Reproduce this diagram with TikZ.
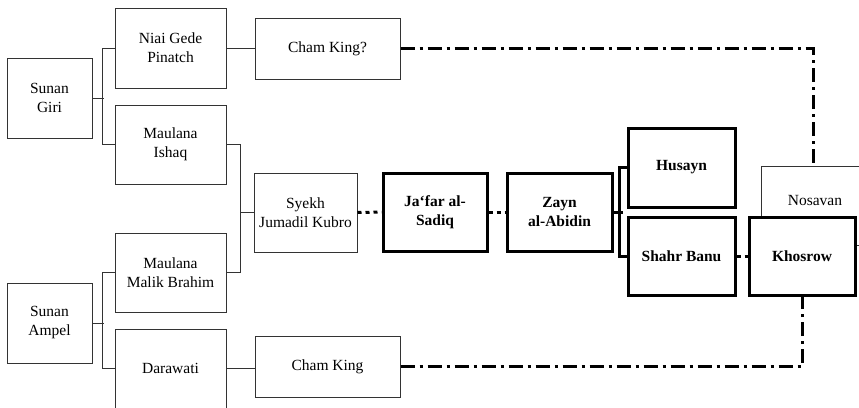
\documentclass[tikz,border=0pt]{standalone}
\usepackage{fontspec}
\setmainfont{Liberation Serif}
\begin{document}
\begin{tikzpicture}[x=1pt,y=-1pt,
 box/.style={draw=black!80, line width=1pt, fill=white, inner sep=0pt, align=center, font=\fontsize{15.5}{19}\selectfont},
 bbox/.style={box, draw=black, line width=3pt, font=\fontsize{15.5}{19}\selectfont\bfseries},
 thinline/.style={draw=black!80, line width=1pt},
 thickline/.style={draw=black, line width=3pt},
 dotline/.style={draw=black, line width=3pt, dash pattern=on 4pt off 4pt},
 dashdotline/.style={draw=black, line width=3pt, dash pattern=on 14pt off 5pt on 3pt off 5pt}]
\useasboundingbox (0,0) rectangle (859,407);
\clip (0,0) rectangle (859,407);
\fill[white] (0,0) rectangle (859,407);

% thin boxes
\node[box, minimum width=85pt, minimum height=80pt] (giri) at (49.5,98) {Sunan\\Giri};
\node[box, minimum width=111pt, minimum height=80pt] (niai) at (170.5,48) {Niai Gede\\Pinatch};
\node[box, minimum width=111pt, minimum height=79pt] (ishaq) at (170.5,144.5) {Maulana\\Ishaq};
\node[box, minimum width=145pt, minimum height=61pt] (chamq) at (327.5,48.5) {Cham King?};
\node[box, minimum width=103pt, minimum height=79pt] (syekh) at (305.5,212.5) {Syekh\\Jumadil Kubro};
\node[box, minimum width=85pt, minimum height=80pt] (ampel) at (49.5,323) {Sunan\\Ampel};
\node[box, minimum width=111pt, minimum height=79pt] (malik) at (170.5,272.5) {Maulana\\Malik Brahim};
\node[box, minimum width=111pt, minimum height=79pt] (darawati) at (170.5,368.5) {Darawati};
\node[box, minimum width=145pt, minimum height=61pt] (chamk) at (327.5,366.5) {Cham King};
\node[box, minimum width=108pt, minimum height=79pt] (nosavan) at (815,205.5) {};
\node[inner sep=0pt, font=\fontsize{15.5}{19}\selectfont] (nosavanlabel) at (815,200) {Nosavan};

% thick boxes
\node[bbox, minimum width=104pt, minimum height=78pt] (jafar) at (435,212) {Ja‘far al-\\Sadiq};
\node[bbox, minimum width=105pt, minimum height=78pt] (zayn) at (559.5,212) {Zayn\\al-Abidin};
\node[bbox, minimum width=107pt, minimum height=79pt] (husayn) at (681.5,167.5) {Husayn};
\node[bbox, minimum width=107pt, minimum height=78pt] (shahr) at (681.5,256) {Shahr Banu};
\node[bbox, minimum width=106pt, minimum height=78pt] (khosrow) at (802,256) {Khosrow};

% thin connectors
\draw[thinline] (giri.east) -- ++(11,0);
\draw[thinline] (niai.west) -- ++(-12,0) |- (ishaq.west);
\draw[thinline] (niai.east) -- (niai.east -| chamq.west);
\draw[thinline] (ishaq.east) -- ++(14,0) |- (malik.east);
\draw[thinline] (syekh.west) -- ++(-14,0);
\draw[thinline] (ampel.east) -- ++(11,0);
\draw[thinline] (malik.west) -- ++(-12,0) |- (darawati.west);
\draw[thinline] (darawati.east) -- (darawati.east -| chamk.west);

% thick connectors
\draw[thickline] (zayn.east) -- ++(9,0);
\draw[thickline] (husayn.west) -- ++(-7,0) |- (shahr.west);

% dotted
\draw[dotline] (syekh.east) -- (jafar.west);
\draw[dotline] (jafar.east) -- (zayn.west);
\draw[dotline] (shahr.east) -- (khosrow.west);

% dash-dot
\coordinate (tc) at (813,0);
\draw[dashdotline] (chamq.east) -| (tc |- nosavan.north);
\draw[dashdotline] (chamk.east) -| (khosrow.south);
\end{tikzpicture}
\end{document}
